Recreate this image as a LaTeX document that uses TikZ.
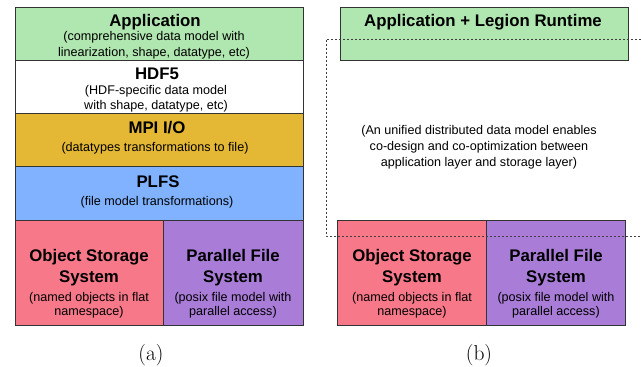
\documentclass[tikz,border=0pt]{standalone}
\usepackage{fontspec}
\newfontfamily\arialfont{Liberation Sans}
\definecolor{appgreen}{RGB}{176,230,176}
\definecolor{mpigold}{RGB}{228,183,52}
\definecolor{plfsblue}{RGB}{128,178,255}
\definecolor{osspink}{RGB}{247,120,137}
\definecolor{pfspurple}{RGB}{168,124,215}
\tikzset{
  layer/.style={draw=black!80, line width=0.8pt, inner sep=0pt},
  ttl/.style={anchor=base, inner sep=0pt, font=\arialfont\bfseries\fontsize{16.8}{19}\selectfont},
  sub/.style={anchor=base, inner sep=0pt, font=\arialfont\fontsize{12.6}{15}\selectfont},
  figcap/.style={anchor=base, inner sep=0pt, font=\fontsize{21.5}{25}\selectfont},
  region/.style={draw=black!75, line width=0.8pt, dash pattern=on 2pt off 2pt},
}
\begin{document}
\begin{tikzpicture}[x=1pt,y=-1pt]
\useasboundingbox (0,0) rectangle (641,367);

% ---- (a) conventional I/O stack ----
\node[layer, fill=appgreen, minimum width=288, minimum height=53] (app) at (159,33.5) {};
\node[layer, fill=white, minimum width=288, minimum height=53] (hdf) at (159,86.5) {};
\node[layer, fill=mpigold, minimum width=288, minimum height=53] (mpi) at (159,139.5) {};
\node[layer, fill=plfsblue, minimum width=288, minimum height=54] (plfs) at (159,193) {};
\node[layer, fill=osspink, minimum width=148, minimum height=105] (oss) at (89,272.5) {};
\node[layer, fill=pfspurple, minimum width=140, minimum height=105] (pfs) at (233,272.5) {};

\node[ttl] (app-t) at (155,26) {Application};
\node[sub] (app-s1) at (154,40.5) {(comprehensive data model with};
\node[sub] (app-s2) at (154,56) {linearization, shape, datatype, etc)};

\node[ttl] (hdf-t) at (157,79) {HDF5};
\node[sub] (hdf-s1) at (156,94.5) {(HDF-specific data model};
\node[sub] (hdf-s2) at (156,109.5) {with shape, datatype, etc)};

\node[ttl] (mpi-t) at (157,133) {MPI I/O};
\node[sub] (mpi-s1) at (155,151.5) {(datatypes transformations to file)};

\node[ttl] (plfs-t) at (158,187) {PLFS};
\node[sub] (plfs-s1) at (157,205) {(file model transformations)};

\node[ttl] (oss-t1) at (89,261.5) {Object Storage};
\node[ttl] (oss-t2) at (89,282) {System};
\node[sub] (oss-s1) at (89,301) {(named objects in flat};
\node[sub] (oss-s2) at (89,315) {namespace)};

\node[ttl] (pfs-t1) at (233,261.5) {Parallel File};
\node[ttl] (pfs-t2) at (233,282) {System};
\node[sub] (pfs-s1) at (233,301) {(posix file model with};
\node[sub] (pfs-s2) at (233,315) {parallel access)};

\node[figcap] (capa) at (151,360) {(a)};

% ---- (b) unified data model ----
\node[layer, fill=appgreen, minimum width=288, minimum height=53] (lapp) at (484,33.5) {};
\node[layer, fill=osspink, minimum width=149, minimum height=105] (ross) at (411.5,272.5) {};
\node[layer, fill=pfspurple, minimum width=139, minimum height=105] (rpfs) at (555.5,272.5) {};

\node[ttl] (lapp-t) at (483,26) {Application + Legion Runtime};

\node[sub] (uni-1) at (479,134.5) {(An unified distributed data model enables};
\node[sub] (uni-2) at (479,150.5) {co-design and co-optimization between};
\node[sub] (uni-3) at (479,166) {application layer and storage layer)};

\node[ttl] (ross-t1) at (412,261.5) {Object Storage};
\node[ttl] (ross-t2) at (412,282) {System};
\node[sub] (ross-s1) at (412,301) {(named objects in flat};
\node[sub] (ross-s2) at (412,315) {namespace)};

\node[ttl] (rpfs-t1) at (556,261.5) {Parallel File};
\node[ttl] (rpfs-t2) at (556,282) {System};
\node[sub] (rpfs-s1) at (556,301) {(posix file model with};
\node[sub] (rpfs-s2) at (556,315) {parallel access)};

\node[figcap] (capb) at (479,360) {(b)};

% dotted region spanning the application and storage layers
\coordinate (reg-tr) at (641,39);
\coordinate (reg-tl) at (326,39);
\coordinate (reg-bl) at (326,236);
\coordinate (reg-br) at (641,236);
\draw[region] (reg-tr) -- (reg-tl) -- (reg-bl) -- (reg-br);
\end{tikzpicture}
\end{document}
